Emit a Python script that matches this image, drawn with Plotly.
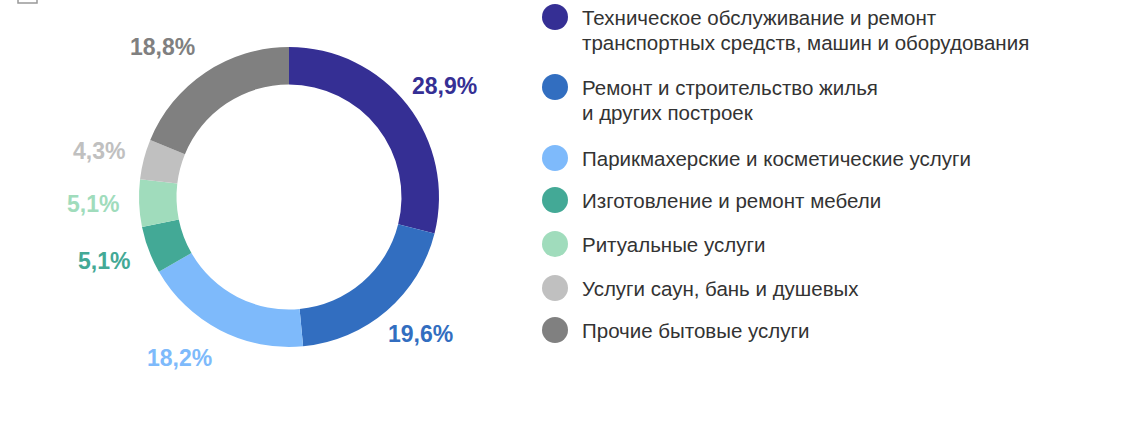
import math
import plotly.graph_objects as go

categories = [
    "Техническое обслуживание и ремонт<br>транспортных средств, машин и оборудования",
    "Ремонт и строительство жилья<br>и других построек",
    "Парикмахерские и косметические услуги",
    "Изготовление и ремонт мебели",
    "Ритуальные услуги",
    "Услуги саун, бань и душевых",
    "Прочие бытовые услуги",
]
values = [28.9, 19.6, 18.2, 5.1, 5.1, 4.3, 18.8]
labels_text = ["28,9%", "19,6%", "18,2%", "5,1%", "5,1%", "4,3%", "18,8%"]
colors = ["#352F94", "#326EC0", "#7EBAFB", "#43A996", "#A0DCBC", "#C0C0C0", "#808080"]

W, H = 1122, 424
CX, CY, R = 289, 197, 150          # donut centre / outer radius in px
LABEL_RX, LABEL_RY = 172, 181      # label anchor ellipse
RIGHT_GAP, LEFT_GAP = -15, 4       # horizontal nudges for label sides

fig = go.Figure()
fig.add_trace(go.Pie(
    labels=categories,
    values=values,
    textinfo="none",
    hole=0.75,
    sort=False,
    direction="clockwise",
    rotation=0,
    marker=dict(colors=colors, line=dict(width=0)),
    showlegend=False,
    domain=dict(x=[(CX - R) / W, (CX + R) / W], y=[(H - CY - R) / H, (H - CY + R) / H]),
))

shapes = []
annotations = []

# value labels placed from the mid-angle of each slice
total = sum(values)
cum = 0.0
for v, txt, col in zip(values, labels_text, colors):
    mid = (cum + v / 2) / total * 2 * math.pi
    cum += v
    s = math.sin(mid)
    dx = LABEL_RX * s
    dy = LABEL_RY * math.cos(mid)
    right = s >= 0
    x = CX + dx + (RIGHT_GAP if right else LEFT_GAP)
    annotations.append(dict(xref="paper", yref="paper",
                            x=x / W, y=(H - CY + dy) / H,
                            xanchor="left" if right else "right", yanchor="middle", showarrow=False,
                            text=f"<b>{txt}</b>",
                            font=dict(family="Liberation Sans, Arial, sans-serif", size=23, color=col)))

# custom legend with large circle markers
legend_y = [17, 87, 158, 200, 244, 288, 330]
for cat, col, cy in zip(categories, colors, legend_y):
    shapes.append(dict(type="circle", xref="paper", yref="paper",
                       x0=(555 - 13) / W, x1=(555 + 13) / W,
                       y0=(H - cy - 13) / H, y1=(H - cy + 13) / H,
                       fillcolor=col, line=dict(width=0)))
    for i, line in enumerate(cat.split("<br>")):
        annotations.append(dict(xref="paper", yref="paper", x=580 / W, y=(H - cy - 25 * i) / H,
                                xanchor="left", yanchor="middle", align="left", showarrow=False,
                                text=line,
                                font=dict(family="Liberation Sans, Arial, sans-serif", size=20.5, color="#333333")))

shapes.append(dict(type="rect", xref="paper", yref="paper",
                   x0=18 / W, x1=37 / W, y0=(H - 3) / H, y1=1.05,
                   line=dict(color="#999999", width=1.5), fillcolor="rgba(0,0,0,0)"))

fig.update_layout(
    width=W, height=H,
    margin=dict(l=0, r=0, t=0, b=0),
    paper_bgcolor="white",
    plot_bgcolor="white",
    shapes=shapes,
    annotations=annotations,
)
fig.write_html("out.html", config={"displayModeBar": False},
               post_script="document.body.style.margin='0';document.body.style.overflow='hidden';")
